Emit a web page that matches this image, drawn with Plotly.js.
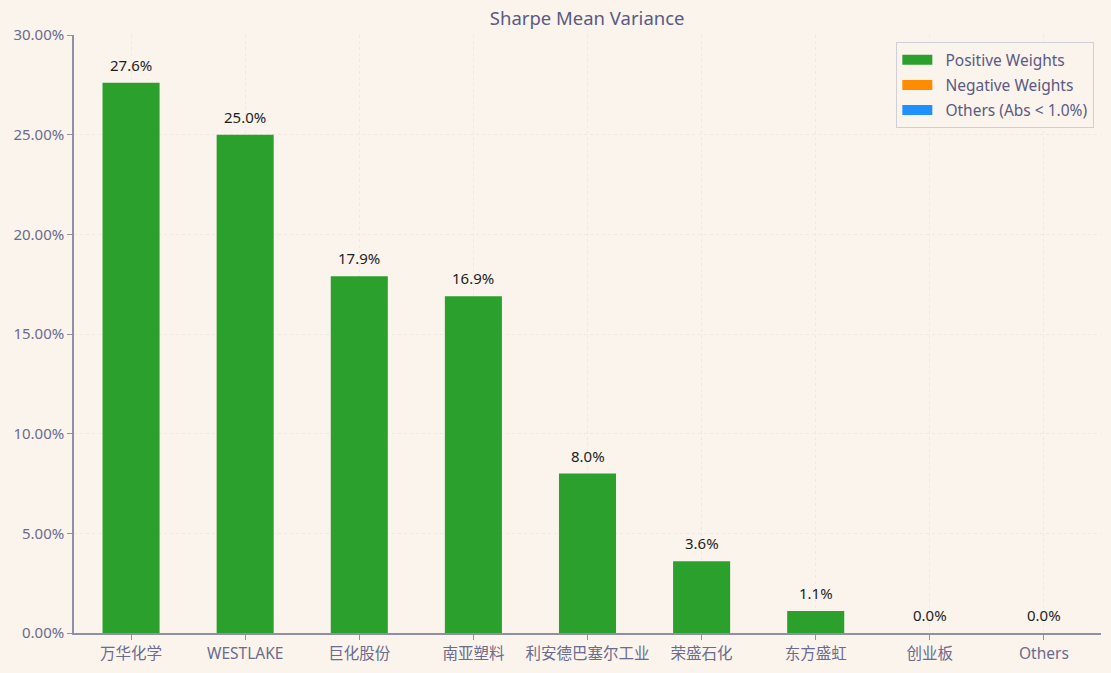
<!DOCTYPE html>
<html><head><meta charset="utf-8">
<script src="https://cdn.plot.ly/plotly-3.0.1.min.js"></script>
<style>html,body{margin:0;padding:0;background:#faf4ec;}</style>
</head><body>
<div id="chart" style="width:1111px;height:673px;"></div>
<script>
const categories = ["万华化学","WESTLAKE","巨化股份","南亚塑料","利安德巴塞尔工业","荣盛石化","东方盛虹","创业板","Others"];
const weights = [27.6, 25.0, 17.9, 16.9, 8.0, 3.6, 1.1, 0.0, 0.0];
const labels = weights.map(v => v.toFixed(1) + "%");
const legendNames = ["Positive Weights","Negative Weights","Others (Abs < 1.0%)"];
const legendColors = ['#2ca02c','#ff8c00','#1e90ff'];
const FONT = '"Noto Sans", "Noto Sans CJK SC", sans-serif';
const traces = [
  {type:'bar', x:categories, y:weights, name:legendNames[0], marker:{color:legendColors[0]},
   width:0.5, showlegend:false, hoverinfo:'x+y'}
];
legendNames.forEach((n,i) => traces.push({type:'scatter', mode:'lines', x:[null], y:[null], name:'\u00a0\u00a0' + n,
  legendgroup:'g'+i, line:{color:legendColors[i], width:12}, showlegend:true}));
const annotations = categories.map((c,i) => ({x:c, y:weights[i], text:labels[i], showarrow:false,
  yanchor:'bottom', yshift:6, font:{size:15, color:'#1e1e1e', family:FONT}}));
const layout = {
  width:1111, height:673,
  paper_bgcolor:'#faf4ec', plot_bgcolor:'#faf4ec',
  margin:{l:74, r:10, t:35, b:40},
  font:{family:FONT, color:'#6b6b8e', size:14},
  title:{text:'Sharpe Mean Variance', x:0.5285, xanchor:'center', y:0.972, yanchor:'middle', font:{size:18.5, color:'#5a5a85', family:FONT}},
  annotations:annotations,
  xaxis:{type:'category', categoryorder:'array', categoryarray:categories, range:[-0.5,8.5],
    showline:true, linecolor:'#8f8fa6', linewidth:2, ticks:'outside', ticklen:5, tickcolor:'#8f8fa6',
    showgrid:true, gridcolor:'#f1e9de', griddash:'dot', gridwidth:1,
    tickfont:{size:15.5, color:'#6b6b8e'}, zeroline:false},
  yaxis:{range:[0,30], tickvals:[0,5,10,15,20,25,30], ticktext:["0.00%","5.00%","10.00%","15.00%","20.00%","25.00%","30.00%"],
    showline:true, linecolor:'#8f8fa6', linewidth:1.5, ticks:'outside', ticklen:5, tickcolor:'#8f8fa6',
    showgrid:true, gridcolor:'#f1e9de', griddash:'dot', gridwidth:1, zeroline:false,
    tickfont:{size:15, color:'#6b6b8e'}},
  legend:{x:0.9935, xanchor:'right', y:0.988, yanchor:'top', bgcolor:'#faf4ec', bordercolor:'#cfcfd6', borderwidth:1,
    font:{size:15.5, color:'#5a5a85'}, itemwidth:30, tracegroupgap:2},
  showlegend:true
};
Plotly.newPlot('chart', traces, layout, {displayModeBar:false});
</script>
</body></html>
